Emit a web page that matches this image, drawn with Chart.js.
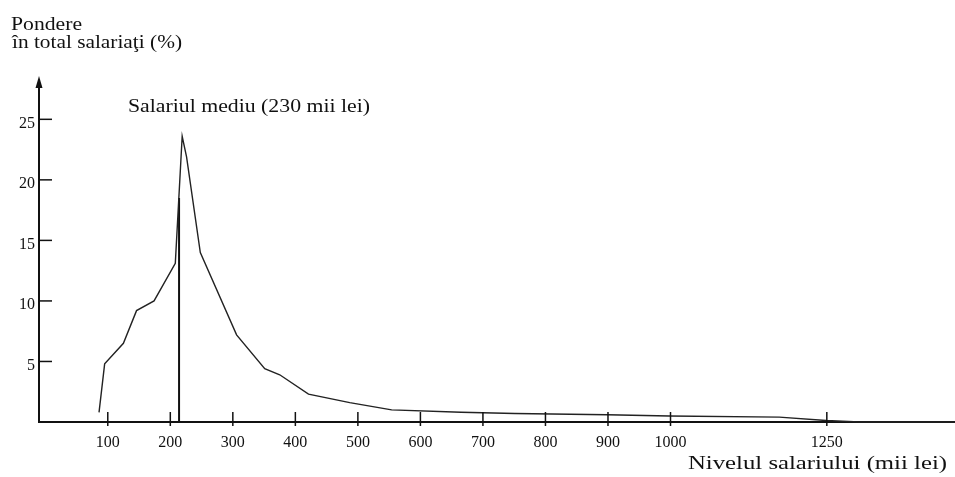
<!DOCTYPE html>
<html lang="ro">
<head>
<meta charset="utf-8">
<title>Ponderea salariaţilor pe niveluri de salariu</title>
<script src="https://cdn.jsdelivr.net/npm/chart.js@4/dist/chart.umd.min.js"></script>
<style>
    html, body { margin: 0; padding: 0; background: #fff; }
    #grafic { display: block; }
</style>
</head>
<body>
<canvas id="grafic" width="955" height="477"></canvas>
<script>
// Nivelul salariului (mii lei)
const nivelSalariu = [86, 95, 125, 146, 174, 208, 219, 226, 248, 306, 351, 375, 421, 487, 554, 665, 751, 899, 998, 1174, 1249, 1302, 1455];
// Ponderea in total salariati (%)
const pondere = [0.8, 4.8, 6.5, 9.2, 10.0, 13.1, 23.6, 21.9, 14.0, 7.2, 4.4, 3.9, 2.3, 1.6, 1.0, 0.8, 0.7, 0.6, 0.5, 0.4, 0.12, 0, 0];

// Linia salariului mediu (pe desen apare putin la stanga lui 230)
const salariuMediuX = 214;
const salariuMediuY = [0, 18.5];

// Valorile marcate pe axe
const eticheteX = [100, 200, 300, 400, 500, 600, 700, 800, 900, 1000, 1250];
const eticheteY = [5, 10, 15, 20, 25];

const FONT = '"Liberation Serif", "Times New Roman", serif';
const NEGRU = '#111';

// Scrie un text intins pe orizontala pana la latimea dorita (scanul e mai lat)
function textLatit(ctx, text, x, y, latime) {
    const w = ctx.measureText(text).width;
    ctx.save();
    ctx.translate(x, y);
    ctx.scale(latime / w, 1);
    ctx.fillText(text, 0, 0);
    ctx.restore();
}

// Plugin pentru liniutele de pe axe, sageata si textele explicative
const decor = {
    id: 'decor',
    afterDraw(chart) {
        const { ctx, chartArea, scales } = chart;
        const sx = scales.x, sy = scales.y;
        ctx.save();
        ctx.strokeStyle = NEGRU;
        ctx.fillStyle = NEGRU;
        ctx.lineWidth = 1.5;

        // liniute pe axa Y (spre interior)
        eticheteY.forEach(v => {
            const y = sy.getPixelForValue(v);
            ctx.beginPath();
            ctx.moveTo(chartArea.left, y);
            ctx.lineTo(chartArea.left + 13, y);
            ctx.stroke();
        });

        // liniute pe axa X (taie axa)
        eticheteX.forEach(v => {
            const x = sx.getPixelForValue(v);
            ctx.beginPath();
            ctx.moveTo(x, chartArea.bottom - 10);
            ctx.lineTo(x, chartArea.bottom + 4);
            ctx.stroke();
        });

        // sageata in varful axei Y
        const ax = chartArea.left;
        ctx.beginPath();
        ctx.moveTo(ax, chartArea.top - 7);
        ctx.lineTo(ax - 3.5, chartArea.top + 5);
        ctx.lineTo(ax + 3.5, chartArea.top + 5);
        ctx.closePath();
        ctx.fill();

        // textele
        ctx.font = '18px ' + FONT;
        ctx.textBaseline = 'alphabetic';
        ctx.textAlign = 'left';
        textLatit(ctx, 'Pondere', 11, 30, 71);
        textLatit(ctx, 'în total salariaţi (%)', 12, 48, 170);
        textLatit(ctx, 'Salariul mediu (230 mii lei)', 128, 112, 242);
        textLatit(ctx, 'Nivelul salariului (mii lei)', 688, 469, 259);
        ctx.restore();
    }
};

const ctx = document.getElementById('grafic').getContext('2d');

new Chart(ctx, {
    type: 'line',
    data: {
        datasets: [
            {
                data: nivelSalariu.map((x, i) => ({ x: x, y: pondere[i] })),
                borderColor: '#222',
                borderWidth: 1.4,
                pointRadius: 0,
                tension: 0,
                clip: false
            },
            {
                data: salariuMediuY.map(y => ({ x: salariuMediuX, y: y })),
                borderColor: NEGRU,
                borderWidth: 2,
                pointRadius: 0,
                clip: false
            }
        ]
    },
    options: {
        responsive: false,
        animation: false,
        devicePixelRatio: 1,
        layout: { padding: { top: 83, right: 0, bottom: 0, left: 0 } },
        plugins: {
            legend: { display: false },
            tooltip: { enabled: false },
            title: { display: false }
        },
        scales: {
            x: {
                type: 'linear',
                min: -10,
                max: 1455,
                afterBuildTicks: s => { s.ticks = eticheteX.map(v => ({ value: v })); },
                afterFit: s => { s.height = 55; },
                grid: { drawOnChartArea: false, drawTicks: false, tickLength: 0 },
                border: { color: NEGRU, width: 2 },
                ticks: {
                    color: NEGRU,
                    font: { family: FONT, size: 16 },
                    padding: 11,
                    maxRotation: 0,
                    autoSkip: false,
                    callback: v => String(v)
                }
            },
            y: {
                type: 'linear',
                min: 0,
                max: 28,
                afterBuildTicks: s => { s.ticks = eticheteY.map(v => ({ value: v })); },
                afterFit: s => { s.width = 39; },
                grid: { drawOnChartArea: false, drawTicks: false, tickLength: 0 },
                border: { color: NEGRU, width: 2 },
                ticks: {
                    color: NEGRU,
                    font: { family: FONT, size: 16 },
                    padding: 4,
                    labelOffset: 4,
                    callback: v => String(v)
                }
            }
        }
    },
    plugins: [decor]
});
</script>
</body>
</html>
